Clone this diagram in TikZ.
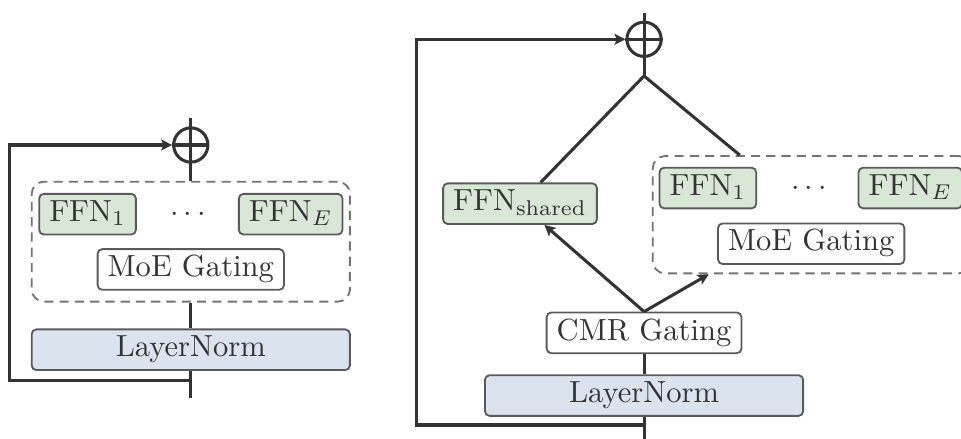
\documentclass[tikz,border=0pt]{standalone}
\usepackage{amsmath}
\usepackage{xcolor}
\definecolor{ffn_green}{RGB}{217,232,214}
\definecolor{norm_blue}{RGB}{218,227,238}
\definecolor{line_gray}{RGB}{51,51,51}
\definecolor{box_gray}{RGB}{90,90,90}
\usepackage{tikz}
\usetikzlibrary{arrows.meta}

\tikzset{
  block/.style = {draw = box_gray, line width = 0.6pt, rounded corners = 1.5pt, text = line_gray,
    inner xsep = 3.3pt, inner ysep = 2pt, text height = 7pt, text depth = 2.3pt},
  ffnbox/.style = {block, fill = ffn_green},
  gatebox/.style = {block, fill = white},
  normbox/.style = {block, fill = norm_blue, minimum width = 3.66cm},
  moegroup/.style = {draw = box_gray!85, line width = 0.6pt, dash pattern = on 3pt off 2pt,
    rounded corners = 4pt, minimum width = 3.66cm},
  addnode/.style = {circle, draw = line_gray, line width = 1pt, minimum size = 11.2pt, inner sep = 0pt},
  flow/.style = {draw = line_gray, line width = 1pt},
  flowarrow/.style = {flow, -{Stealth[length = 3.6pt, width = 3.6pt, inset = 0.8pt]}}
}

\begin{document}
\begin{tikzpicture}
\useasboundingbox (0, 0) rectangle (11.055, -5.050);

% left: plain MoE layer
\draw (2.195, -2.780) node[moegroup, minimum height = 1.380cm] (boxL) {};
\draw (1.007, -2.464) node[ffnbox] (ffn1L) {FFN$_1$};
\draw (2.195, -2.464) node[text = line_gray, text height = 7pt, text depth = 2.3pt] (dotsL) {$\cdots$};
\draw (3.344, -2.464) node[ffnbox] (ffnEL) {FFN$_E$};
\draw (2.195, -3.100) node[gatebox] (moeL) {MoE Gating};
\draw (2.195, -4.023) node[normbox] (lnL) {LayerNorm};
\draw (2.195, -1.668) node[addnode] (plusL) {};

\coordinate (inL) at (2.195, -4.582);
\coordinate (brL) at (2.195, -4.372);
\coordinate (skipL) at (0.107, -4.372);
\coordinate (outL) at (2.195, -1.361);

\draw [flow] (inL) -- (lnL);
\draw [flow] (lnL) -- (boxL);
\draw [flow] (boxL.north) -- (outL);
\draw [flow] (plusL.west) -- (plusL.east);
\draw [flowarrow] (brL) -- (skipL) |- (plusL.west);

% right: MoE layer with CMR gating
\draw (9.339, -2.470) node[moegroup, minimum height = 1.349cm] (boxR) {};
\draw (8.143, -2.163) node[ffnbox] (ffn1R) {FFN$_1$};
\draw (9.338, -2.163) node[text = line_gray, text height = 7pt, text depth = 2.3pt] (dotsR) {$\cdots$};
\draw (10.472, -2.163) node[ffnbox] (ffnER) {FFN$_E$};
\draw (9.332, -2.804) node[gatebox] (moeR) {MoE Gating};
\draw (5.982, -2.343) node[ffnbox] (ffnS) {FFN$_{\text{shared}}$};
\draw (7.409, -3.829) node[gatebox] (cmr) {CMR Gating};
\draw (7.409, -4.550) node[normbox] (lnR) {LayerNorm};
\draw (7.409, -0.452) node[addnode] (plusR) {};

\coordinate (inR) at (7.409, -5.070);
\coordinate (brR) at (7.409, -4.889);
\coordinate (skipR) at (4.794, -4.889);
\coordinate (apex) at (7.409, -0.874);
\coordinate (outR) at (7.409, -0.146);

\draw [flow] (inR) -- (lnR);
\draw [flow] (lnR) -- (cmr);
\draw [flowarrow] (cmr.north) -- (ffnS);
\draw [flowarrow] (cmr.north) -- (boxR);
\draw [flow] (ffnS) -- (apex) -- (boxR);
\draw [flow] (apex) -- (outR);
\draw [flow] (plusR.west) -- (plusR.east);
\draw [flowarrow] (brR) -- (skipR) |- (plusR.west);

\end{tikzpicture}
\end{document}
